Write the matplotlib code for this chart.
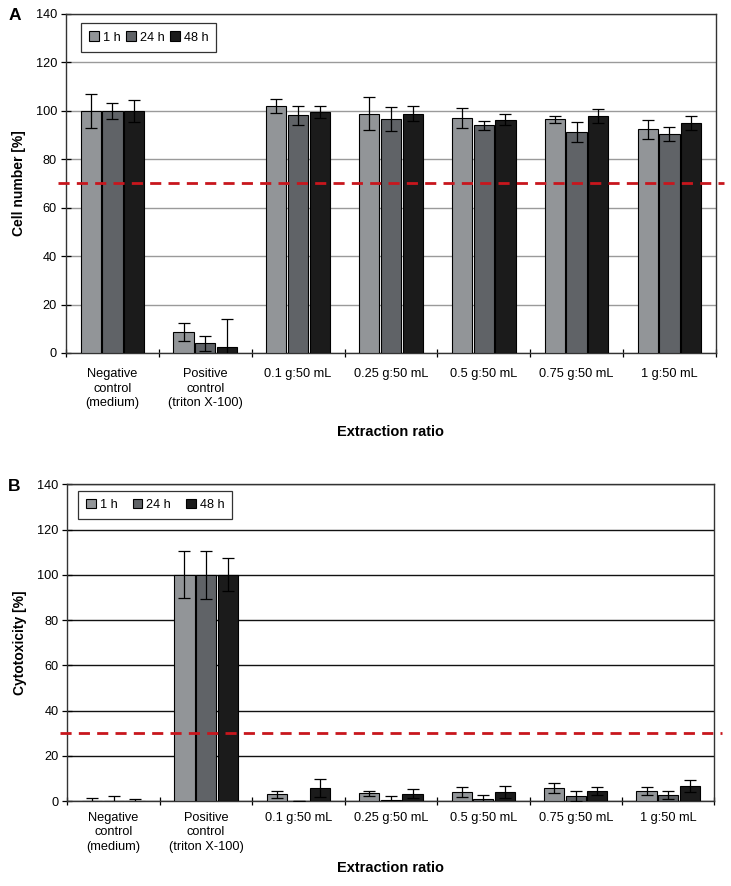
import numpy as np
import matplotlib
matplotlib.use("Agg")
from matplotlib import pyplot as plt
from matplotlib.patches import Patch

plt.rcParams['font.family'] = ['Liberation Sans', 'DejaVu Sans']

categories = ['Negative\ncontrol\n(medium)', 'Positive\ncontrol\n(triton X-100)',
              '0.1 g:50 mL', '0.25 g:50 mL', '0.5 g:50 mL', '0.75 g:50 mL', '1 g:50 mL']
series = ['1 h', '24 h', '48 h']
colors = ['#929598', '#606367', '#1b1b1b']

# panel A: cell number [%]
cell_1h = [100, 8.8, 102.1, 98.9, 97.1, 96.5, 92.3]
cell_24h = [100, 4.0, 98.2, 96.6, 94.0, 91.2, 90.5]
cell_48h = [100, 2.3, 99.5, 98.8, 96.3, 97.8, 95.1]
cell_err_1h = [7.0, 3.7, 2.9, 6.9, 4.1, 1.5, 4.1]
cell_err_24h = [3.3, 3.2, 4.0, 5.1, 2.0, 4.1, 2.8]
cell_err_48h = [4.6, 11.6, 2.5, 3.0, 2.2, 2.8, 2.9]

# panel B: cytotoxicity [%]
cyto_1h = [0, 100, 2.9, 3.4, 4.1, 5.6, 4.4]
cyto_24h = [0, 100, 0, 0.6, 0.9, 2.2, 2.5]
cyto_48h = [0, 100, 5.7, 3.2, 4.0, 4.4, 6.6]
cyto_err_1h = [1.2, 10.4, 1.5, 1.2, 2.2, 2.2, 1.6]
cyto_err_24h = [2.4, 10.5, 0, 1.8, 1.6, 2.1, 1.8]
cyto_err_48h = [0.7, 7.3, 4.1, 1.9, 2.5, 1.9, 2.5]

limit_a = 70
limit_b = 30

fig = plt.figure(figsize=(7.31, 8.86), dpi=100)
axA = fig.add_axes([0.0903, 0.6016, 0.889, 0.3826])
axB = fig.add_axes([0.0923, 0.0959, 0.885, 0.3575])

x = np.arange(len(categories))
w = 0.218
step = 0.234


def draw(ax, vals, errs, grid_col, ylabel, limit, legend_spacing, legend_pos,
         xpad, xlabpad):
    for i, (v, e) in enumerate(zip(vals, errs)):
        ax.bar(x + (i - 1) * step, v, w, color=colors[i], edgecolor='black',
               linewidth=0.8, zorder=3)
        ax.errorbar(x + (i - 1) * step, v, yerr=e, fmt='none', ecolor='black',
                    elinewidth=0.9, capsize=4, capthick=0.9, zorder=4)
    ax.set_xlim(-0.5, len(categories) - 0.5)
    ax.set_ylim(0, 140)
    ax.set_yticks(np.arange(0, 141, 20))
    ax.yaxis.grid(True, color=grid_col, linewidth=1.0, zorder=0)
    ax.set_axisbelow(True)
    ax.set_xticks(np.arange(-0.5, len(categories)), minor=False)
    ax.set_xticklabels([])
    ax.set_xticks(x, minor=True)
    ax.set_xticklabels(categories, minor=True, fontsize=9.2, linespacing=1.25)
    ax.tick_params(axis='x', which='minor', length=0, pad=xpad)
    ax.tick_params(axis='x', which='major', direction='inout', length=6, width=0.9)
    ax.tick_params(axis='y', direction='inout', length=7, width=0.9, labelsize=9.2, pad=3)
    for s in ax.spines.values():
        s.set_color('#333333')
        s.set_linewidth(1.0)
    ax.plot([-0.012, 1.012], [limit, limit], transform=ax.get_yaxis_transform(),
            color='#c8161d', lw=2.0, dashes=(4, 2.6), clip_on=False, zorder=5)
    ax.set_ylabel(ylabel, fontsize=10, fontweight='bold', labelpad=7)
    ax.set_xlabel('Extraction ratio', fontsize=10.5, fontweight='bold', labelpad=xlabpad)
    handles = [Patch(facecolor=c, edgecolor='black', linewidth=0.8) for c in colors]
    leg = ax.legend(handles, series, loc='upper left', bbox_to_anchor=legend_pos,
                    ncol=3, fontsize=9.2, frameon=True, fancybox=False,
                    handlelength=0.75, handleheight=0.75, handletextpad=0.3,
                    columnspacing=legend_spacing, borderpad=0.65, borderaxespad=0)
    leg.get_frame().set_edgecolor('black')
    leg.get_frame().set_linewidth(0.9)


draw(axA, [cell_1h, cell_24h, cell_48h], [cell_err_1h, cell_err_24h, cell_err_48h],
     '#9a9a9a', 'Cell number [%]', limit_a, 0.45, (0.023, 0.973), 11, 12)
draw(axB, [cyto_1h, cyto_24h, cyto_48h], [cyto_err_1h, cyto_err_24h, cyto_err_48h],
     '#111111', 'Cytotoxicity [%]', limit_b, 1.2, (0.016, 0.98), 8, 6)

fig.text(0.012, 0.982, 'A', fontsize=12.5, fontweight='bold', va='center')
fig.text(0.011, 0.451, 'B', fontsize=12.5, fontweight='bold', va='center')

fig.savefig('out.png', dpi=100)
